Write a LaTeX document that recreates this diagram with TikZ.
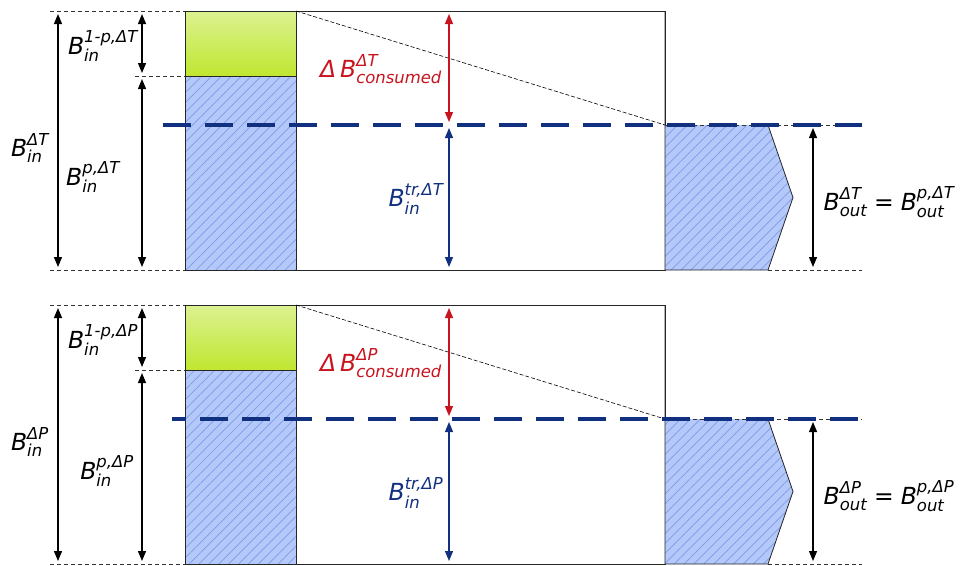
\documentclass[tikz,border=0pt]{standalone}
\usepackage{amsmath}
\usepackage{fontspec}
\setmainfont{DejaVu Sans}
\usetikzlibrary{arrows.meta,patterns.meta}
\definecolor{navy}{RGB}{18,48,128}
\definecolor{redc}{RGB}{200,20,30}
\definecolor{blueF}{RGB}{180,200,250}
\definecolor{hatchc}{RGB}{125,155,230}
\definecolor{greenT}{RGB}{220,242,145}
\definecolor{greenB}{RGB}{192,230,48}
\newcommand\Bx[2]{$\textit{B}^{\text{\itshape #1}}_{\text{\itshape #2}}$}
\tikzset{
  thindash/.style={draw=black!80, line width=0.6pt, dash pattern=on 4pt off 3pt},
  diagdash/.style={draw=black, line width=0.6pt, dash pattern=on 4pt off 2pt},
  boxline/.style={draw=black!85, line width=0.8pt},
  hatch/.style={preaction={fill=blueF}, pattern={Lines[angle=45,distance=7pt,line width=0.7pt]}, pattern color=hatchc},
  dimarrow/.style={line width=1.2pt, {Triangle[length=10pt,width=8pt]}-{Triangle[length=10pt,width=8pt]}, shorten <=3pt, shorten >=3pt},
  lvl/.style={draw=navy, line width=3.5pt, dash pattern=on 28pt off 14pt},
  lbl/.style={inner sep=0pt, font=\fontsize{23.5}{28}\selectfont},
}
\begin{document}
\begin{tikzpicture}[x=1pt,y=-1pt]
\useasboundingbox (0,0) rectangle (960,565);
\foreach \dy/\s/\px/\ph/\sx in {0/T/93/0/163, 294/P/107/14/172}{
\begin{scope}[shift={(0,\dy)}]
  % coordinates
  \coordinate (L1\s) at (58,11);  \coordinate (L2\s) at (58,270);
  \coordinate (M1\s) at (142,11); \coordinate (M2\s) at (142,76); \coordinate (M3\s) at (142,270);
  \coordinate (R1\s) at (449,11); \coordinate (R2\s) at (449,125); \coordinate (R3\s) at (449,270);
  \coordinate (O1\s) at (813,125); \coordinate (O2\s) at (813,270);
  % shapes
  \draw[boxline, fill=white] (185,11) rectangle (665,270);
  \shade[top color=greenT, bottom color=greenB] (185,11) rectangle (296,76);
  \draw[boxline] (185,11) rectangle (296,76);
  \path[hatch] (185,76) rectangle (296,270);
  \draw[boxline] (185,76) rectangle (296,270);
  \path[hatch] (665,125) -- (768,125) -- (793,197.5) -- (768,270) -- (665,270) -- cycle;
  \draw[boxline] (665,11) -- (665,270) -- (768,270) -- (793,197.5) -- (768,125);
  % thin dashed guides
  \draw[thindash] (50,11) -- (185,11);
  \draw[thindash] (135,76) -- (185,76);
  \draw[thindash] (50,270) -- (185,270);
  \draw[thindash] (665,125) -- (862,125);
  \draw[thindash] (768,270) -- (862,270);
  \draw[diagdash] (296,11) -- (665,125);
  % level line
  \draw[lvl, dash phase=\ph pt] (\sx,125) -- (862,125);
  % arrows
  \draw[dimarrow] (L1\s) -- (L2\s);
  \draw[dimarrow] (M1\s) -- (M2\s);
  \draw[dimarrow] (M2\s) -- (M3\s);
  \draw[dimarrow, redc] (R1\s) -- (R2\s);
  \draw[dimarrow, navy] (R2\s) -- (R3\s);
  \draw[dimarrow] (O1\s) -- (O2\s);
  % labels
  \node[lbl] (bin\s) at (30,148) {\Bx{Δ\s}{in}};
  \node[lbl] (bnp\s) at (103,46) {\Bx{1-p,Δ\s}{in}};
  \node[lbl] (bp\s) at (\px,177) {\Bx{p,Δ\s}{in}};
  \node[lbl, text=redc] (cons\s) at (381,69) {$\textit{Δ\,B}^{\text{\itshape Δ\s}}_{\text{\itshape consumed}}$};
  \node[lbl, text=navy] (tr\s) at (416,199) {\Bx{tr,Δ\s}{in}};
  \node[lbl] (out\s) at (889,202) {$\textit{B}^{\text{\itshape Δ\s}}_{\text{\itshape out}}\mathrel{\text{=}}\textit{B}^{\text{\itshape p,Δ\s}}_{\text{\itshape out}}$};
\end{scope}
}
\end{tikzpicture}
\end{document}
